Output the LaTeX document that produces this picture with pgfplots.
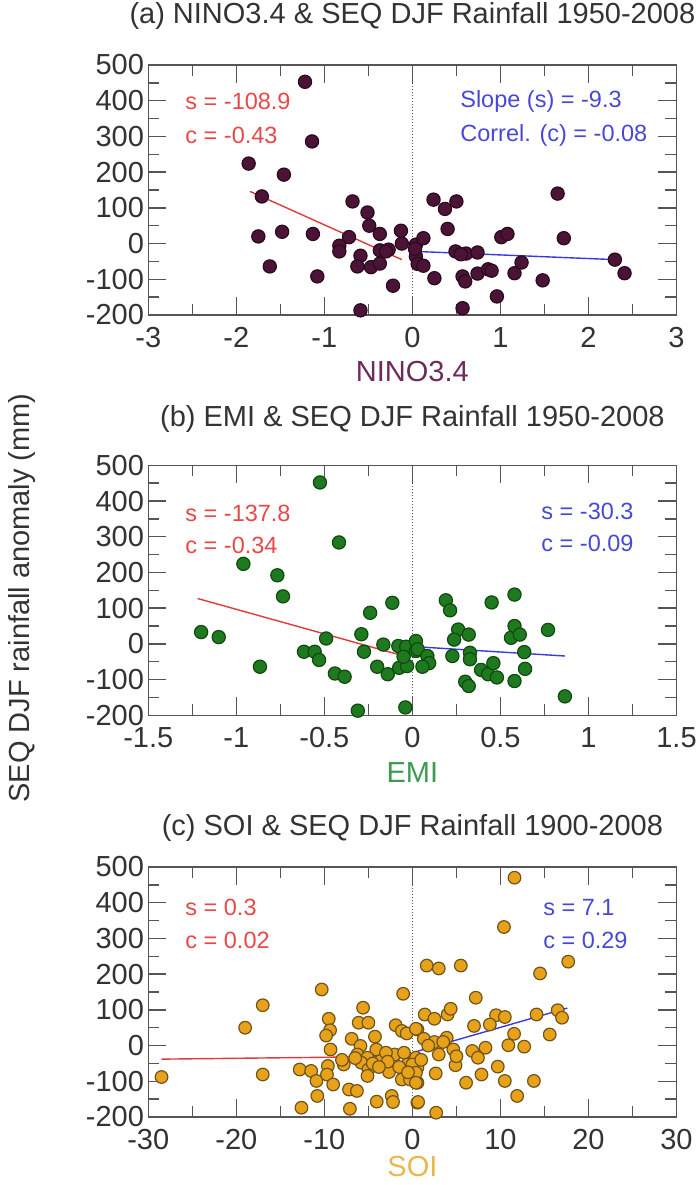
\documentclass[border=0pt]{standalone}
\usepackage{pgfplots}
\usepackage{pgfplotstable}
\pgfplotsset{compat=1.18}
\usepackage{fontspec}
\setmainfont{Liberation Sans}

\definecolor{framecol}{HTML}{555555}
\definecolor{txtcol}{HTML}{333333}
\definecolor{maroonfill}{HTML}{4B1436}
\definecolor{maroonedge}{HTML}{2B0A1E}
\definecolor{greenfill}{HTML}{1F7A1F}
\definecolor{greenedge}{HTML}{0F4A0F}
\definecolor{orangefill}{HTML}{E8A21A}
\definecolor{orangeedge}{HTML}{6E5418}
\definecolor{ninolab}{HTML}{6E2A58}
\definecolor{emilab}{HTML}{3E9A50}
\definecolor{soilab}{HTML}{E8B84A}
\definecolor{redtxt}{HTML}{E84848}
\definecolor{bluetxt}{HTML}{4848D8}
\definecolor{redline}{HTML}{E03A3A}
\definecolor{blueline}{HTML}{3A3AE0}

\pgfplotstableread{
x y
-1.22 453
-1.14 286
-1.86 224
-1.46 193
-1.71 132
-1.75 20
-1.48 33
-1.13 27
-1.62 -64
-1.08 -92
-0.68 118
-0.51 87
-0.49 50
-0.37 27
-0.13 36
-0.12 0
-0.72 18
-0.83 -6
-0.83 -22
-0.59 -34
-0.625 -64
-0.47 -66
-0.37 -56
-0.37 -19
-0.27 -17
-0.30 -22
-0.22 -118
-0.59 -187
0.04 -3
0.125 15
0.04 -36
0.06 -57
0.125 -62
0.03 -15
0.24 123
0.37 97
0.50 118
0.40 41
0.25 -97
0.49 -22
0.61 -28
0.74 -25
0.57 -92
0.60 -106
0.74 -84
0.86 -72
0.90 -76
0.96 -148
0.57 -181
1.01 18
1.08 27
1.16 -83
1.24 -53
1.48 -103
1.65 140
1.72 15
2.30 -45
2.41 -83
0.55 -30
}\ninodata

\pgfplotstableread{
x y
-0.525 452
-0.417 284
-0.96 224
-0.767 192
-0.735 133
-1.20 33
-1.10 19
-0.866 -64
-0.616 -22
-0.555 -22
-0.53 -45
-0.49 15
-0.44 -83
-0.385 -92
-0.29 27
-0.24 87
-0.275 -22
-0.114 115
-0.165 -2
-0.20 -64
-0.14 -85
-0.31 -187
-0.04 -178
-0.08 -6
-0.035 -8
-0.075 -67
-0.03 -62
-0.05 -36
0.02 8
0.02 -20
0.03 -15
0.085 -34
0.095 -54
0.057 -64
0.19 122
0.214 94
0.45 116
0.58 138
0.26 40
0.237 12
0.32 26
0.227 -34
0.327 -25
0.327 -43
0.39 -73
0.43 -85
0.46 -54
0.48 -94
0.30 -106
0.32 -118
0.58 -104
0.56 17
0.58 50
0.61 26
0.635 -23
0.64 -70
0.77 39
0.866 -147
}\emidata

\pgfplotstableread{
x y
-28.5 -88
-19.0 50
-17.0 113
-17.0 -81
-10.3 157
-9.5 75
-9.35 43
-9.8 28
-9.3 -11
-12.8 -67
-11.5 -71
-10.9 -99
-10.8 -141
-12.6 -174
-9.6 -57
-9.7 -81
-9.0 -109
-7.8 -53
-7.2 -123
-6.3 -127
-7.1 -177
-6.9 19
-5.9 -1
-6.25 -25
-5.6 106
-6.1 64
-5.0 64
-4.25 25
-4.1 -11
-5.1 -34
-5.8 -48
-5.0 -67
-5.1 -85
-3.6 -43
-2.65 -74
-4.05 -157
-2.35 -141
-2.2 -158
-1.9 57
-1.2 41
-0.65 34
-2.0 -25
-0.95 -20
-1.05 145
-1.2 -95
-0.27 -95
-0.57 -53
0.57 45
0.57 -160
0.57 -62
0.57 -104
1.63 224
3.0 216
5.5 224
10.4 332
11.6 470
17.7 235
14.5 202
7.2 134
1.4 87
2.5 75
4.0 87
4.35 103
9.5 85
10.5 80
14.1 87
16.5 99
17.0 78
7.0 55
8.8 59
15.6 31
11.55 33
10.9 1
12.7 -3
0.4 47
1.3 19
2.5 10
3.9 22
4.65 -11
6.8 -15
7.45 -34
8.3 -6
3.0 -25
4.9 -55
0.4 -34
0.0 -53
0.4 -76
0.4 -104
2.65 -78
6.1 -104
7.85 -81
9.7 -59
10.5 -99
13.8 -99
11.9 -141
0.65 -158
2.7 -188
-3.0 -20
-1.5 -60
-0.5 -75
-8.0 -40
-4.5 -50
1.8 0
3.5 10
-2.8 -45
-6.5 -35
-3.8 -60
5.0 -30
1.0 -40
}\soidata

\pgfplotsset{
  myax/.style={
    scale only axis, width=264.1pt, height=125pt,
    anchor=north west,
    ymin=-200, ymax=500,
    ytick={-200,-100,...,500},
    minor ytick={-150,-50,...,450},
    axis line style={draw=framecol, line width=0.7pt},
    every tick/.style={draw=framecol, line width=0.7pt},
    major tick length=9pt, minor tick length=5.5pt,
    tick align=inside,
    ticklabel style={font=\fontsize{14.5}{16}\selectfont, text=txtcol},
    yticklabel style={inner xsep=2pt, inner ysep=0pt},
    xticklabel style={inner xsep=0pt, inner ysep=6pt},
    /pgf/number format/assume math mode=true,
    title style={font=\fontsize{14.5}{16}\selectfont, text=txtcol,
      at={(axis description cs:0.5,1)}, anchor=center},
    xlabel style={font=\fontsize{14.5}{16}\selectfont,
      at={(axis description cs:0.5,0)}, anchor=center},
  },
}
\tikzset{annot/.style={font=\fontsize{11.75}{13}\selectfont, inner sep=0pt}}

\begin{document}
\begin{tikzpicture}
\path[use as bounding box] (0,0) rectangle (349pt,-592.5pt);

% ---------- (a) ----------
\begin{axis}[myax, at={(74.15pt,-32.5pt)},
  xmin=-3, xmax=3, xtick={-3,-2,...,3}, minor xtick={-2.5,-1.5,...,2.5},
  title={(a) NINO3.4 \& SEQ DJF Rainfall 1950-2008},
  title style={yshift=18.75pt},
  xlabel={NINO3.4}, xlabel style={text=ninolab, yshift=-28.25pt}]
\addplot[densely dotted, framecol, line width=0.5pt] coordinates {(0,-200) (0,500)};
\addplot[only marks, mark=*, mark size=3.3pt,
  mark options={fill=maroonfill, draw=maroonedge, line width=0.6pt}] table[x=x,y=y] {\ninodata};
\addplot[redline, line width=0.7pt] coordinates {(-1.845,146) (-0.12,-45)};
\addplot[blueline, line width=0.7pt] coordinates {(0.04,-22) (2.30,-45)};
\node[annot, anchor=west, text=redtxt] at (axis description cs:0.0695,0.855) {s = -108.9};
\node[annot, anchor=west, text=redtxt] at (axis description cs:0.0695,0.718) {c = -0.43};
\node[annot, anchor=west, text=bluetxt] at (axis description cs:0.590,0.855) {Slope (s) = -9.3};
\node[annot, anchor=west, text=bluetxt] at (axis description cs:0.590,0.718) {Correl. (c) = -0.08};
\end{axis}

% ---------- (b) ----------
\begin{axis}[myax, at={(74.15pt,-232.65pt)},
  xmin=-1.5, xmax=1.5, xtick={-1.5,-1,...,1.5}, minor xtick={-1.25,-0.75,...,1.25},
  title={(b) EMI \& SEQ DJF Rainfall 1950-2008},
  title style={yshift=17pt},
  xlabel={EMI}, xlabel style={text=emilab, yshift=-28.5pt}]
\addplot[densely dotted, framecol, line width=0.5pt] coordinates {(0,-200) (0,500)};
\addplot[only marks, mark=*, mark size=3.3pt,
  mark options={fill=greenfill, draw=greenedge, line width=0.6pt}] table[x=x,y=y] {\emidata};
\addplot[redline, line width=0.7pt] coordinates {(-1.22,127) (-0.02,-38)};
\addplot[blueline, line width=0.7pt] coordinates {(0.02,-8) (0.866,-34)};
\node[annot, anchor=west, text=redtxt] at (axis description cs:0.0695,0.808) {s = -137.8};
\node[annot, anchor=west, text=redtxt] at (axis description cs:0.0695,0.681) {c = -0.34};
\node[annot, anchor=east, text=bluetxt] at (axis description cs:0.9195,0.814) {s = -30.3};
\node[annot, anchor=east, text=bluetxt] at (axis description cs:0.9195,0.689) {c = -0.09};
\end{axis}

% ---------- (c) ----------
\begin{axis}[myax, at={(74.15pt,-433.5pt)},
  xmin=-30, xmax=30, xtick={-30,-20,...,30}, minor xtick={-25,-15,...,25},
  title={(c) SOI \& SEQ DJF Rainfall 1900-2008},
  title style={yshift=13.5pt},
  xlabel={SOI}, xlabel style={text=soilab, yshift=-25pt}]
\addplot[densely dotted, framecol, line width=0.5pt] coordinates {(0,-200) (0,500)};
\addplot[only marks, mark=*, mark size=3.15pt,
  mark options={fill=orangefill, draw=orangeedge, line width=0.6pt}] table[x=x,y=y] {\soidata};
\addplot[redline, line width=0.7pt] coordinates {(-28.5,-38) (0,-30)};
\addplot[blueline, line width=0.7pt] coordinates {(0,-20) (17.6,105)};
\node[annot, anchor=west, text=redtxt] at (axis description cs:0.0695,0.838) {s = 0.3};
\node[annot, anchor=west, text=redtxt] at (axis description cs:0.0695,0.706) {c = 0.02};
\node[annot, anchor=west, text=bluetxt] at (axis description cs:0.747,0.838) {s = 7.1};
\node[annot, anchor=west, text=bluetxt] at (axis description cs:0.747,0.706) {c = 0.29};
\end{axis}

\node[rotate=90, font=\fontsize{14.5}{16}\selectfont, text=txtcol] at (11pt,-299pt) {SEQ DJF rainfall anomaly (mm)};
\end{tikzpicture}
\end{document}
